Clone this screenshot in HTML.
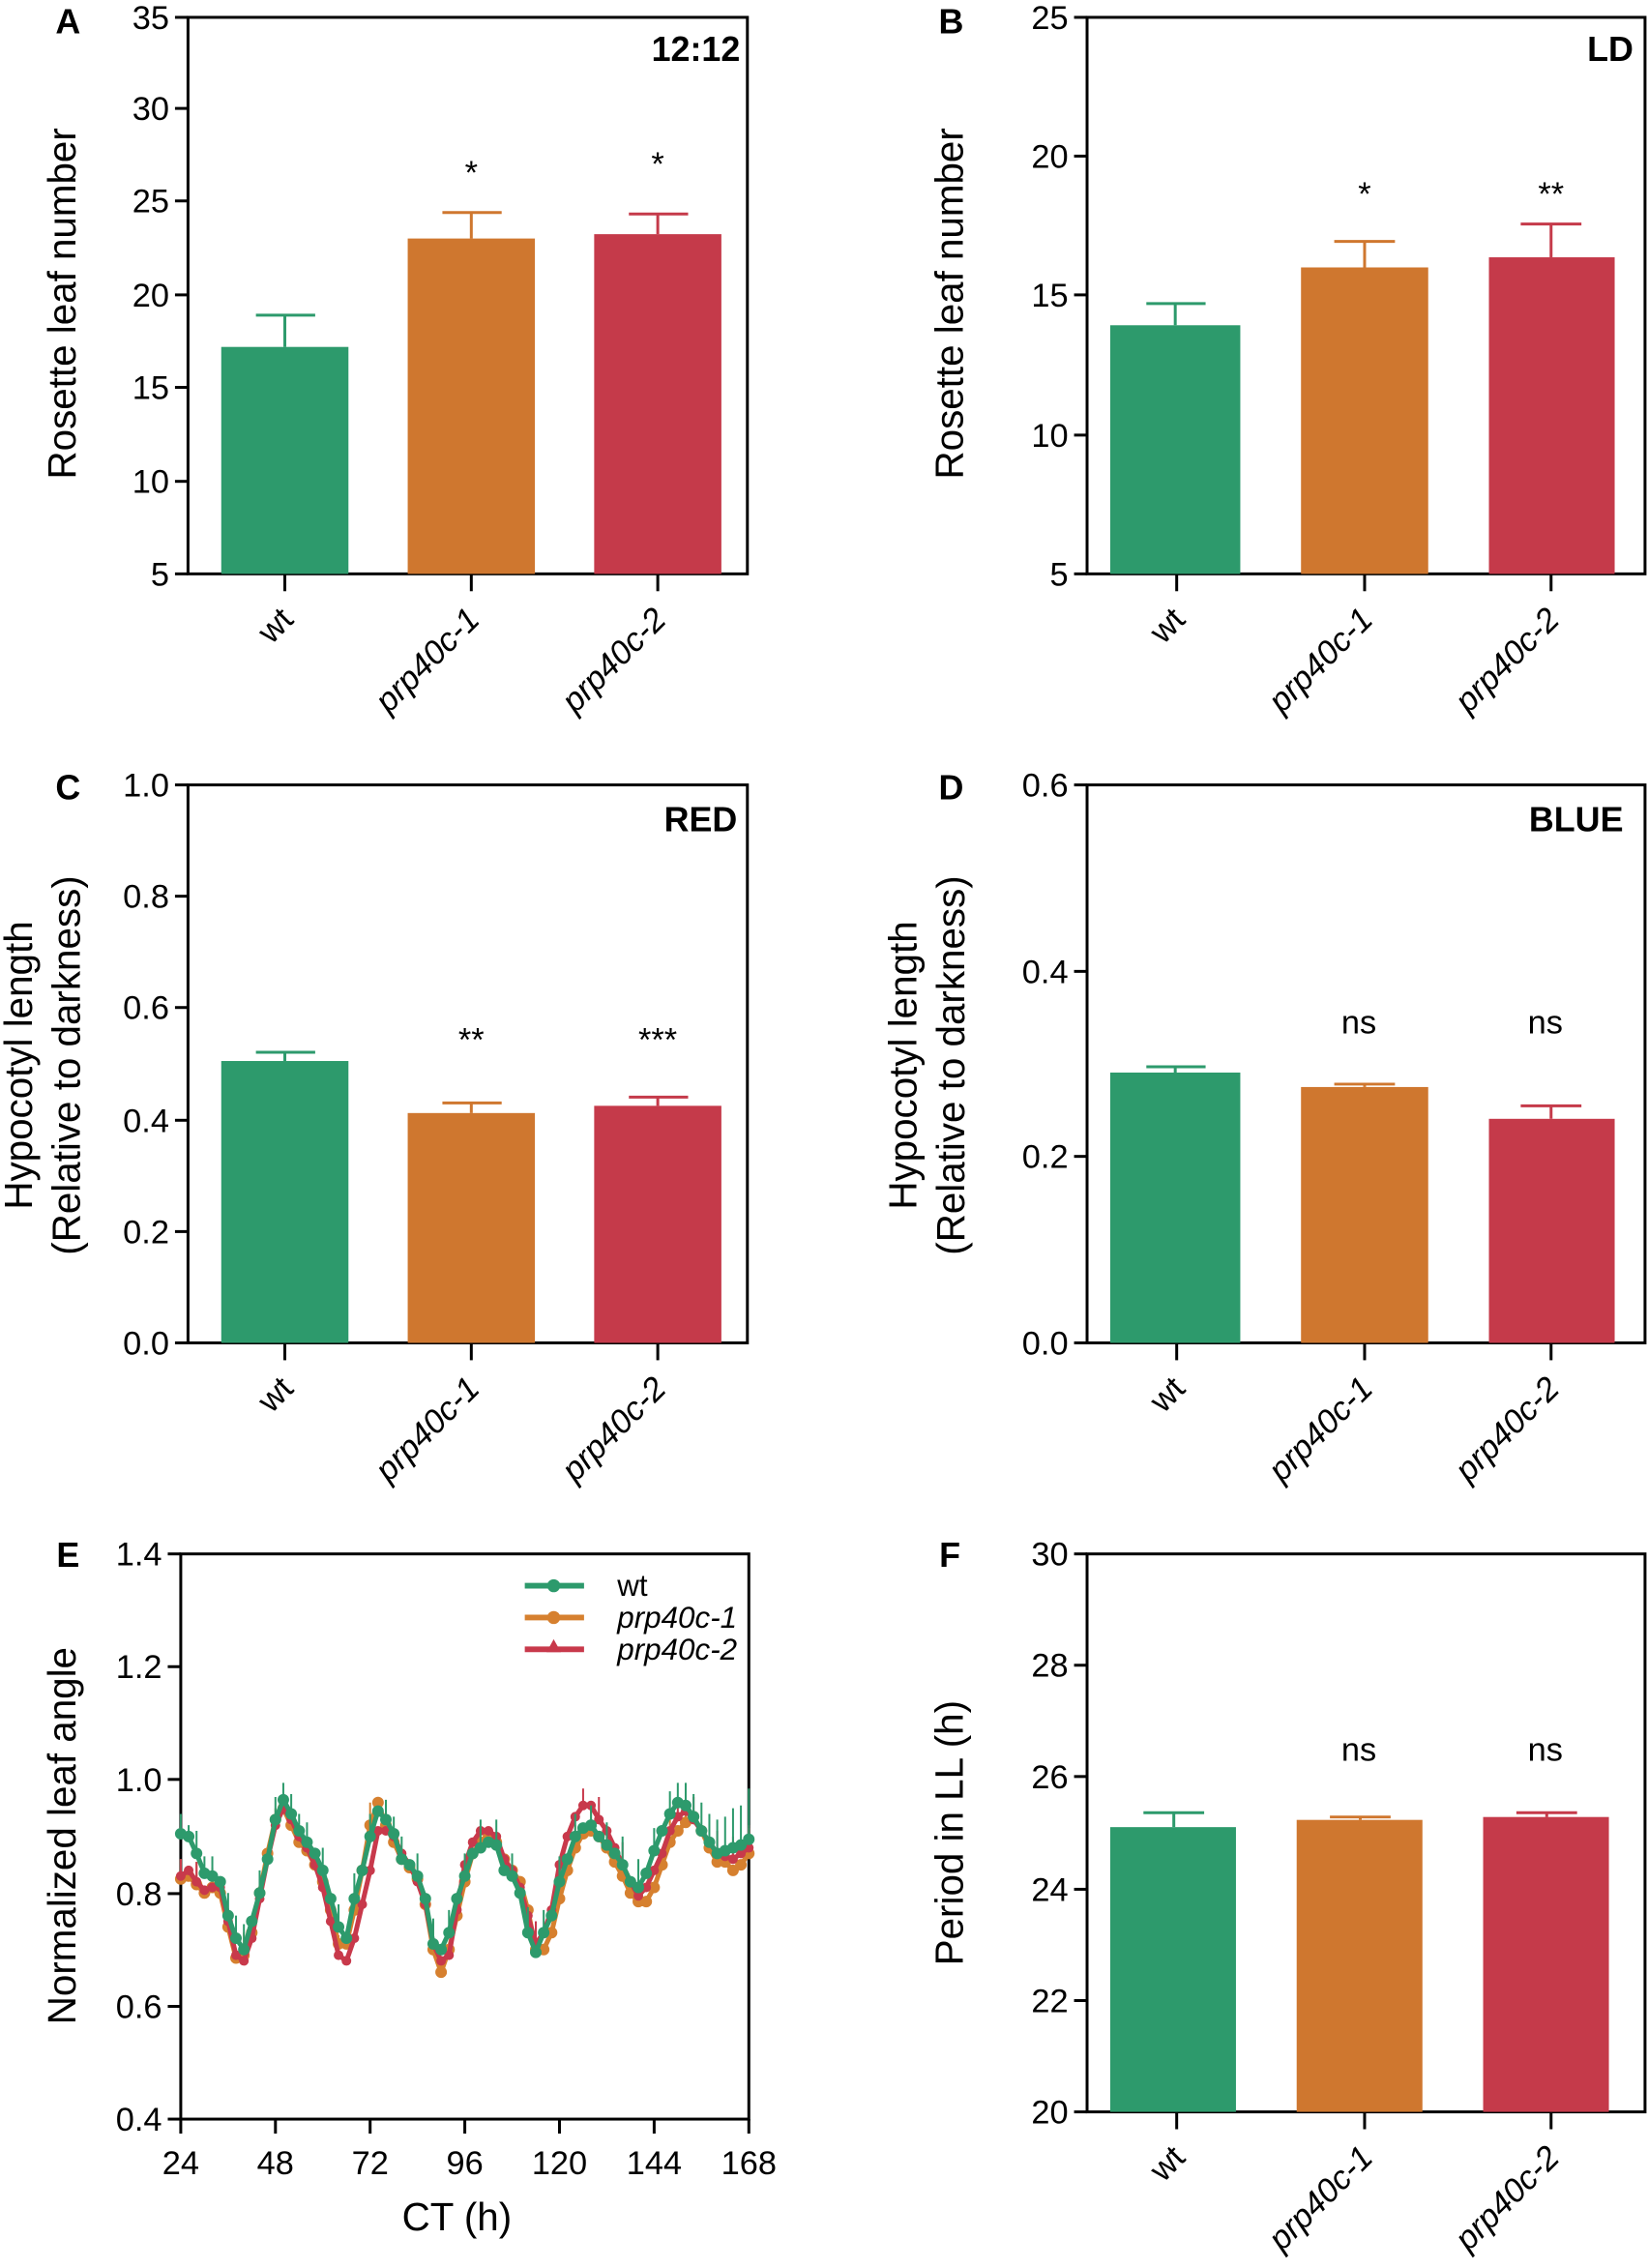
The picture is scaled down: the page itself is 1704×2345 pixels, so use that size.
<!DOCTYPE html>
<html><head><meta charset="utf-8"><style>
html,body{margin:0;padding:0;background:#fff}
svg{display:block}
text{font-family:"Liberation Sans",Arial,sans-serif;fill:#000}
.t{font-size:23px}
.yl{font-size:27px}
.b{font-weight:bold}
.it{font-style:italic;font-size:23px}
</style></head><body>
<svg width="1704" height="2345" viewBox="0 0 1140 1569" xmlns="http://www.w3.org/2000/svg">
<g stroke="#000" stroke-width="2" fill="none">
<rect x="130" y="12" width="387" height="385"/>
<rect x="752" y="12" width="386" height="385"/>
<rect x="130" y="543" width="387" height="386"/>
<rect x="752" y="543" width="386" height="386"/>
<rect x="125" y="1075" width="393" height="391"/>
<rect x="752" y="1075" width="386" height="386"/>
</g>

<!-- ===== A ===== -->
<text x="47" y="23" class="b" style="font-size:24px" text-anchor="middle">A</text>
<g stroke="#000" stroke-width="2">
<line x1="121" y1="12" x2="130" y2="12"/><line x1="121" y1="75" x2="130" y2="75"/><line x1="121" y1="139" x2="130" y2="139"/><line x1="121" y1="204" x2="130" y2="204"/><line x1="121" y1="268" x2="130" y2="268"/><line x1="121" y1="333" x2="130" y2="333"/><line x1="121" y1="397" x2="130" y2="397"/>
<line x1="197" y1="397" x2="197" y2="409"/><line x1="326" y1="397" x2="326" y2="409"/><line x1="455" y1="397" x2="455" y2="409"/>
</g>
<g class="t" text-anchor="end">
<text x="117" y="20">35</text><text x="117" y="83">30</text><text x="117" y="147">25</text><text x="117" y="212">20</text><text x="117" y="276">15</text><text x="117" y="341">10</text><text x="117" y="405">5</text>
</g>
<text class="yl" transform="translate(52,210) rotate(-90)" text-anchor="middle">Rosette leaf number</text>
<text x="512" y="42" class="b" style="font-size:24px" text-anchor="end">12:12</text>
<rect x="153" y="240" width="88" height="157" fill="#2d9a6c"/>
<rect x="282" y="165" width="88" height="232" fill="#cf772f"/>
<rect x="411" y="162" width="88" height="235" fill="#c53a4a"/>
<g stroke-width="2"><path d="M197 240V218M177 218H218" stroke="#2d9a6c"/><path d="M326 165V147M306 147H347" stroke="#cf772f"/><path d="M455 162V148M435 148H476" stroke="#c53a4a"/></g>
<text x="326" y="127" text-anchor="middle" style="font-size:23px">*</text>
<text x="455" y="121" text-anchor="middle" style="font-size:23px">*</text>
<g class="it" text-anchor="end">
<text transform="translate(204,430) rotate(-45)" style="font-style:normal">wt</text>
<text transform="translate(333,430) rotate(-45)">prp40c-1</text>
<text transform="translate(462,430) rotate(-45)">prp40c-2</text>
</g>

<!-- ===== B ===== -->
<text x="658" y="23" class="b" style="font-size:24px" text-anchor="middle">B</text>
<g stroke="#000" stroke-width="2">
<line x1="743" y1="12" x2="752" y2="12"/><line x1="743" y1="108" x2="752" y2="108"/><line x1="743" y1="204" x2="752" y2="204"/><line x1="743" y1="301" x2="752" y2="301"/><line x1="743" y1="397" x2="752" y2="397"/>
<line x1="814" y1="397" x2="814" y2="409"/><line x1="944" y1="397" x2="944" y2="409"/><line x1="1073" y1="397" x2="1073" y2="409"/>
</g>
<g class="t" text-anchor="end">
<text x="739" y="20">25</text><text x="739" y="116">20</text><text x="739" y="212">15</text><text x="739" y="309">10</text><text x="739" y="405">5</text>
</g>
<text class="yl" transform="translate(666,210) rotate(-90)" text-anchor="middle">Rosette leaf number</text>
<text x="1130" y="42" class="b" style="font-size:24px" text-anchor="end">LD</text>
<rect x="768" y="225" width="90" height="172" fill="#2d9a6c"/>
<rect x="900" y="185" width="88" height="212" fill="#cf772f"/>
<rect x="1030" y="178" width="87" height="219" fill="#c53a4a"/>
<g stroke-width="2"><path d="M813 225V210M793 210H834" stroke="#2d9a6c"/><path d="M944 185V167M923 167H965" stroke="#cf772f"/><path d="M1073 178V155M1052 155H1094" stroke="#c53a4a"/></g>
<text x="944" y="142" text-anchor="middle" style="font-size:23px">*</text>
<text x="1073" y="142" text-anchor="middle" style="font-size:23px">**</text>
<g class="it" text-anchor="end">
<text transform="translate(821,430) rotate(-45)" style="font-style:normal">wt</text>
<text transform="translate(951,430) rotate(-45)">prp40c-1</text>
<text transform="translate(1080,430) rotate(-45)">prp40c-2</text>
</g>

<!-- ===== C ===== -->
<text x="47" y="553" class="b" style="font-size:24px" text-anchor="middle">C</text>
<g stroke="#000" stroke-width="2">
<line x1="121" y1="543" x2="130" y2="543"/><line x1="121" y1="620" x2="130" y2="620"/><line x1="121" y1="697" x2="130" y2="697"/><line x1="121" y1="775" x2="130" y2="775"/><line x1="121" y1="852" x2="130" y2="852"/><line x1="121" y1="929" x2="130" y2="929"/>
<line x1="197" y1="929" x2="197" y2="941"/><line x1="326" y1="929" x2="326" y2="941"/><line x1="455" y1="929" x2="455" y2="941"/>
</g>
<g class="t" text-anchor="end">
<text x="117" y="551">1.0</text><text x="117" y="628">0.8</text><text x="117" y="705">0.6</text><text x="117" y="783">0.4</text><text x="117" y="860">0.2</text><text x="117" y="937">0.0</text>
</g>
<text class="yl" transform="translate(22,737) rotate(-90)" text-anchor="middle">Hypocotyl length</text>
<text class="yl" transform="translate(55,737) rotate(-90)" text-anchor="middle">(Relative to darkness)</text>
<text x="510" y="575" class="b" style="font-size:24px" text-anchor="end">RED</text>
<rect x="153" y="734" width="88" height="195" fill="#2d9a6c"/>
<rect x="282" y="770" width="88" height="159" fill="#cf772f"/>
<rect x="411" y="765" width="88" height="164" fill="#c53a4a"/>
<g stroke-width="2"><path d="M197 734V728M177 728H218" stroke="#2d9a6c"/><path d="M326 770V763M306 763H347" stroke="#cf772f"/><path d="M455 765V759M435 759H476" stroke="#c53a4a"/></g>
<text x="326" y="727" text-anchor="middle" style="font-size:23px">**</text>
<text x="455" y="727" text-anchor="middle" style="font-size:23px">***</text>
<g class="it" text-anchor="end">
<text transform="translate(204,962) rotate(-45)" style="font-style:normal">wt</text>
<text transform="translate(333,962) rotate(-45)">prp40c-1</text>
<text transform="translate(462,962) rotate(-45)">prp40c-2</text>
</g>

<!-- ===== D ===== -->
<text x="658" y="553" class="b" style="font-size:24px" text-anchor="middle">D</text>
<g stroke="#000" stroke-width="2">
<line x1="743" y1="543" x2="752" y2="543"/><line x1="743" y1="672" x2="752" y2="672"/><line x1="743" y1="800" x2="752" y2="800"/><line x1="743" y1="929" x2="752" y2="929"/>
<line x1="814" y1="929" x2="814" y2="941"/><line x1="944" y1="929" x2="944" y2="941"/><line x1="1073" y1="929" x2="1073" y2="941"/>
</g>
<g class="t" text-anchor="end">
<text x="739" y="551">0.6</text><text x="739" y="680">0.4</text><text x="739" y="808">0.2</text><text x="739" y="937">0.0</text>
</g>
<text class="yl" transform="translate(634,737) rotate(-90)" text-anchor="middle">Hypocotyl length</text>
<text class="yl" transform="translate(667,737) rotate(-90)" text-anchor="middle">(Relative to darkness)</text>
<text x="1123" y="575" class="b" style="font-size:24px" text-anchor="end">BLUE</text>
<rect x="768" y="742" width="90" height="187" fill="#2d9a6c"/>
<rect x="900" y="752" width="88" height="177" fill="#cf772f"/>
<rect x="1030" y="774" width="87" height="155" fill="#c53a4a"/>
<g stroke-width="2"><path d="M813 742V738M793 738H834" stroke="#2d9a6c"/><path d="M944 752V750M923 750H965" stroke="#cf772f"/><path d="M1073 774V765M1052 765H1094" stroke="#c53a4a"/></g>
<text x="940" y="715" text-anchor="middle" style="font-size:23px">ns</text>
<text x="1069" y="715" text-anchor="middle" style="font-size:23px">ns</text>
<g class="it" text-anchor="end">
<text transform="translate(821,962) rotate(-45)" style="font-style:normal">wt</text>
<text transform="translate(951,962) rotate(-45)">prp40c-1</text>
<text transform="translate(1080,962) rotate(-45)">prp40c-2</text>
</g>

<!-- ===== F ===== -->
<text x="657" y="1084" class="b" style="font-size:24px" text-anchor="middle">F</text>
<g stroke="#000" stroke-width="2">
<line x1="743" y1="1075" x2="752" y2="1075"/><line x1="743" y1="1152" x2="752" y2="1152"/><line x1="743" y1="1229" x2="752" y2="1229"/><line x1="743" y1="1307" x2="752" y2="1307"/><line x1="743" y1="1384" x2="752" y2="1384"/><line x1="743" y1="1461" x2="752" y2="1461"/>
<line x1="814" y1="1461" x2="814" y2="1473"/><line x1="944" y1="1461" x2="944" y2="1473"/><line x1="1073" y1="1461" x2="1073" y2="1473"/>
</g>
<g class="t" text-anchor="end">
<text x="739" y="1083">30</text><text x="739" y="1160">28</text><text x="739" y="1237">26</text><text x="739" y="1315">24</text><text x="739" y="1392">22</text><text x="739" y="1469">20</text>
</g>
<text class="yl" transform="translate(666,1268) rotate(-90)" text-anchor="middle">Period in LL (h)</text>
<rect x="768" y="1264" width="87" height="197" fill="#2d9a6c"/>
<rect x="897" y="1259" width="87" height="202" fill="#cf772f"/>
<rect x="1026" y="1257" width="87" height="204" fill="#c53a4a"/>
<g stroke-width="2"><path d="M812 1264V1254M791 1254H833" stroke="#2d9a6c"/><path d="M941 1259V1257M920 1257H962" stroke="#cf772f"/><path d="M1070 1257V1254M1049 1254H1091" stroke="#c53a4a"/></g>
<text x="940" y="1218" text-anchor="middle" style="font-size:23px">ns</text>
<text x="1069" y="1218" text-anchor="middle" style="font-size:23px">ns</text>
<g class="it" text-anchor="end">
<text transform="translate(821,1494) rotate(-45)" style="font-style:normal">wt</text>
<text transform="translate(951,1494) rotate(-45)">prp40c-1</text>
<text transform="translate(1080,1494) rotate(-45)">prp40c-2</text>
</g>

<!-- ===== E ===== -->
<text x="47" y="1084" class="b" style="font-size:24px" text-anchor="middle">E</text>
<g stroke="#000" stroke-width="2">
<line x1="116" y1="1075" x2="125" y2="1075"/><line x1="116" y1="1153" x2="125" y2="1153"/><line x1="116" y1="1231" x2="125" y2="1231"/><line x1="116" y1="1310" x2="125" y2="1310"/><line x1="116" y1="1388" x2="125" y2="1388"/><line x1="116" y1="1466" x2="125" y2="1466"/>
<line x1="125" y1="1466" x2="125" y2="1476"/><line x1="190.5" y1="1466" x2="190.5" y2="1476"/><line x1="256" y1="1466" x2="256" y2="1476"/><line x1="321.5" y1="1466" x2="321.5" y2="1476"/><line x1="387" y1="1466" x2="387" y2="1476"/><line x1="452.5" y1="1466" x2="452.5" y2="1476"/><line x1="518" y1="1466" x2="518" y2="1476"/>
</g>
<g class="t" text-anchor="end">
<text x="112" y="1083">1.4</text><text x="112" y="1161">1.2</text><text x="112" y="1239">1.0</text><text x="112" y="1318">0.8</text><text x="112" y="1396">0.6</text><text x="112" y="1474">0.4</text>
</g>
<g class="t" text-anchor="middle">
<text x="125" y="1504">24</text><text x="190.5" y="1504">48</text><text x="256" y="1504">72</text><text x="321.5" y="1504">96</text><text x="387" y="1504">120</text><text x="452.5" y="1504">144</text><text x="518" y="1504">168</text>
</g>
<text x="316" y="1543" class="yl" text-anchor="middle">CT (h)</text>
<text class="yl" transform="translate(52,1270) rotate(-90)" text-anchor="middle">Normalized leaf angle</text>

<g transform="translate(125,1466) scale(2.729,-391)" fill="none" stroke-linejoin="round">
<!-- error bars orange/red -->
<path vector-effect="non-scaling-stroke" stroke="#d6802f" stroke-width="2" d="M0 .425v.035M4 .415v.04M8 .41v.035M16 .29v.04M24 .53v.02M48 .52v.04M72 .42v.04M76 .49v.02M100 .48v.04M104 .51v.04M124 .49v.04M128 .525v.04M144 .47v.045"/>
<path vector-effect="non-scaling-stroke" stroke="#c8394b" stroke-width="2" d="M0 .43v.03M4 .42v.035M8 .41v.03M20 .39v.035M40 .29v.035M64 .31v.04M90 .31v.04M102 .555v.03M106 .53v.04M112 .45v.04M126 .535v.035M130 .53v.04M136 .47v.04M140 .46v.04M144 .48v.04"/>
<!-- orange -->
<polyline vector-effect="non-scaling-stroke" stroke="#d6802f" stroke-width="5" points="0,.425 2,.43 4,.415 6,.40 8,.41 10,.40 12,.34 14,.285 16,.29 18,.33 20,.40 22,.47 24,.53 26,.55 28,.52 30,.49 32,.475 34,.45 36,.42 38,.37 40,.31 42,.31 44,.37 46,.44 48,.52 50,.56 52,.52 54,.49 56,.46 58,.445 60,.425 62,.38 64,.30 66,.26 68,.30 70,.36 72,.42 74,.47 76,.49 78,.50 80,.49 82,.46 84,.44 86,.42 88,.37 90,.30 92,.30 94,.33 96,.39 98,.44 100,.48 102,.505 104,.51 106,.50 108,.48 110,.455 112,.43 114,.40 116,.385 118,.385 120,.41 122,.45 124,.49 126,.51 128,.525 130,.535 132,.51 134,.48 136,.455 138,.455 140,.44 142,.45 144,.47"/>
<path vector-effect="non-scaling-stroke" stroke="#d6802f" stroke-width="12" stroke-linecap="round" d="M0 .425h0M2 .43h0M4 .415h0M6 .40h0M8 .41h0M10 .40h0M12 .34h0M14 .285h0M16 .29h0M18 .33h0M20 .40h0M22 .47h0M24 .53h0M26 .55h0M28 .52h0M30 .49h0M32 .475h0M34 .45h0M36 .42h0M38 .37h0M40 .31h0M42 .31h0M44 .37h0M46 .44h0M48 .52h0M50 .56h0M52 .52h0M54 .49h0M56 .46h0M58 .445h0M60 .425h0M62 .38h0M64 .30h0M66 .26h0M68 .30h0M70 .36h0M72 .42h0M74 .47h0M76 .49h0M78 .50h0M80 .49h0M82 .46h0M84 .44h0M86 .42h0M88 .37h0M90 .30h0M92 .30h0M94 .33h0M96 .39h0M98 .44h0M100 .48h0M102 .505h0M104 .51h0M106 .50h0M108 .48h0M110 .455h0M112 .43h0M114 .40h0M116 .385h0M118 .385h0M120 .41h0M122 .45h0M124 .49h0M126 .51h0M128 .525h0M130 .535h0M132 .51h0M134 .48h0M136 .455h0M138 .455h0M140 .44h0M142 .45h0M144 .47h0"/>
<!-- red -->
<polyline vector-effect="non-scaling-stroke" stroke="#c8394b" stroke-width="5" points="0,.43 2,.44 4,.42 6,.405 8,.41 10,.41 12,.35 14,.29 16,.28 18,.32 20,.39 22,.46 24,.52 26,.55 28,.53 30,.50 32,.48 34,.45 36,.41 38,.35 40,.29 42,.28 44,.32 46,.38 48,.44 50,.51 52,.51 54,.50 56,.47 58,.45 60,.42 62,.38 64,.31 66,.28 68,.29 70,.37 72,.45 74,.49 76,.51 78,.51 80,.50 82,.46 84,.44 86,.41 88,.36 90,.31 92,.33 94,.37 96,.45 98,.50 100,.535 102,.555 104,.555 106,.53 108,.51 110,.48 112,.45 114,.42 116,.395 118,.41 120,.44 122,.47 124,.51 126,.535 128,.545 130,.53 132,.51 134,.49 136,.47 138,.465 140,.46 142,.47 144,.48"/>
<path vector-effect="non-scaling-stroke" stroke="#c8394b" stroke-width="10" stroke-linecap="round" d="M0 .43h0M2 .44h0M4 .42h0M6 .405h0M8 .41h0M10 .41h0M12 .35h0M14 .29h0M16 .28h0M18 .32h0M20 .39h0M22 .46h0M24 .52h0M26 .55h0M28 .53h0M30 .50h0M32 .48h0M34 .45h0M36 .41h0M38 .35h0M40 .29h0M42 .28h0M44 .32h0M46 .38h0M48 .44h0M50 .51h0M52 .51h0M54 .50h0M56 .47h0M58 .45h0M60 .42h0M62 .38h0M64 .31h0M66 .28h0M68 .29h0M70 .37h0M72 .45h0M74 .49h0M76 .51h0M78 .51h0M80 .50h0M82 .46h0M84 .44h0M86 .41h0M88 .36h0M90 .31h0M92 .33h0M94 .37h0M96 .45h0M98 .50h0M100 .535h0M102 .555h0M104 .555h0M106 .53h0M108 .51h0M110 .48h0M112 .45h0M114 .42h0M116 .395h0M118 .41h0M120 .44h0M122 .47h0M124 .51h0M126 .535h0M128 .545h0M130 .53h0M132 .51h0M134 .49h0M136 .47h0M138 .465h0M140 .46h0M142 .47h0M144 .48h0"/>
<!-- error bars wt -->
<path vector-effect="non-scaling-stroke" stroke="#2d9a6c" stroke-width="2" d="M0 .505v.035M2 .5v.02M4 .47v.04M6 .435v.03M8 .43v.035M12 .36v.04M14 .32v.04M16 .30v.045M20 .40v.04M24 .53v.04M26 .565v.03M28 .54v.035M30 .51v.03M32 .49v.035M36 .44v.04M40 .34v.04M44 .39v.045M48 .50v.04M52 .53v.035M54 .505v.03M56 .46v.04M60 .43v.04M64 .31v.045M68 .33v.04M72 .43v.04M76 .48v.05M80 .485v.045M84 .43v.04M88 .33v.045M92 .33v.04M96 .42v.045M100 .50v.04M104 .52v.035M108 .485v.04M112 .45v.05M116 .41v.05M120 .475v.04M124 .54v.04M126 .56v.035M128 .555v.04M130 .535v.04M132 .51v.05M134 .49v.05M136 .47v.06M138 .475v.06M140 .48v.07M142 .485v.07M144 .495v.09"/>
<!-- wt -->
<polyline vector-effect="non-scaling-stroke" stroke="#2d9a6c" stroke-width="5" points="0,.505 2,.5 4,.47 6,.435 8,.43 10,.42 12,.36 14,.32 16,.30 18,.35 20,.40 22,.46 24,.53 26,.565 28,.54 30,.51 32,.49 34,.47 36,.44 38,.39 40,.34 42,.32 44,.39 46,.44 48,.50 50,.545 52,.53 54,.505 56,.46 58,.45 60,.43 62,.39 64,.31 66,.30 68,.33 70,.39 72,.43 74,.47 76,.48 78,.49 80,.485 82,.44 84,.43 86,.40 88,.33 90,.295 92,.33 94,.36 96,.42 98,.46 100,.50 102,.515 104,.52 106,.50 108,.485 110,.47 112,.45 114,.42 116,.41 118,.435 120,.475 122,.51 124,.54 126,.56 128,.555 130,.535 132,.51 134,.49 136,.47 138,.475 140,.48 142,.485 144,.495"/>
<path vector-effect="non-scaling-stroke" stroke="#2d9a6c" stroke-width="12" stroke-linecap="round" d="M0 .505h0M2 .5h0M4 .47h0M6 .435h0M8 .43h0M10 .42h0M12 .36h0M14 .32h0M16 .30h0M18 .35h0M20 .40h0M22 .46h0M24 .53h0M26 .565h0M28 .54h0M30 .51h0M32 .49h0M34 .47h0M36 .44h0M38 .39h0M40 .34h0M42 .32h0M44 .39h0M46 .44h0M48 .50h0M50 .545h0M52 .53h0M54 .505h0M56 .46h0M58 .45h0M60 .43h0M62 .39h0M64 .31h0M66 .30h0M68 .33h0M70 .39h0M72 .43h0M74 .47h0M76 .48h0M78 .49h0M80 .485h0M82 .44h0M84 .43h0M86 .40h0M88 .33h0M90 .295h0M92 .33h0M94 .36h0M96 .42h0M98 .46h0M100 .50h0M102 .515h0M104 .52h0M106 .50h0M108 .485h0M110 .47h0M112 .45h0M114 .42h0M116 .41h0M118 .435h0M120 .475h0M122 .51h0M124 .54h0M126 .56h0M128 .555h0M130 .535h0M132 .51h0M134 .49h0M136 .47h0M138 .475h0M140 .48h0M142 .485h0M144 .495h0"/>
</g>
<!-- legend -->
<g stroke-width="4">
<line x1="363" y1="1097" x2="404" y2="1097" stroke="#2d9a6c"/><circle cx="383" cy="1097" r="4.5" fill="#2d9a6c"/>
<line x1="363" y1="1119" x2="404" y2="1119" stroke="#d6802f"/><circle cx="383" cy="1119" r="4.5" fill="#d6802f"/>
<line x1="363" y1="1141" x2="404" y2="1141" stroke="#c8394b"/><path d="M383 1134l5 9h-10z" fill="#c8394b" stroke="none"/>
</g>
<text x="427" y="1104" class="t" style="font-size:21px">wt</text>
<text x="427" y="1126" class="it" style="font-size:21px">prp40c-1</text>
<text x="427" y="1148" class="it" style="font-size:21px">prp40c-2</text>
</svg>
</body></html>
